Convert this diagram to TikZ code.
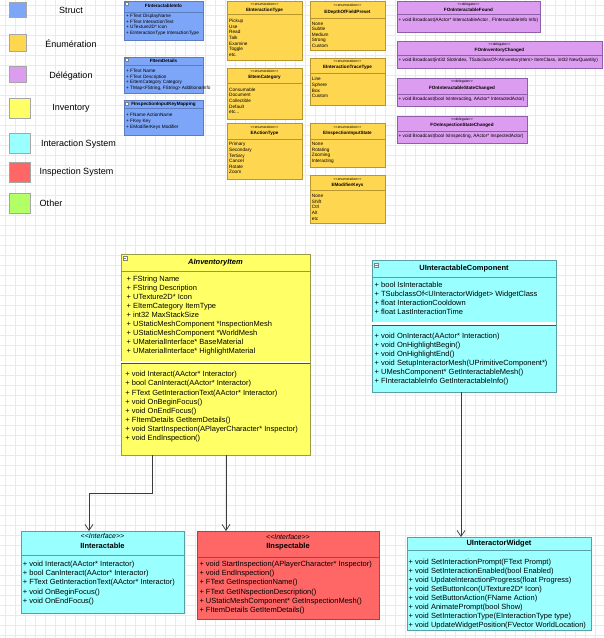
\documentclass[tikz,border=0pt]{standalone}
\usepackage{fontspec}
\setmainfont{Liberation Sans}
\usetikzlibrary{arrows.meta, positioning, calc}
\definecolor{structBlue}{HTML}{7EA6F8}
\definecolor{structLine}{HTML}{5A7DC0}
\definecolor{enumGold}{HTML}{FFD650}
\definecolor{enumLine}{HTML}{B8962E}
\definecolor{delegViolet}{HTML}{DC9CF0}
\definecolor{delegLine}{HTML}{8E5EA8}
\definecolor{invYellow}{HTML}{FFFF66}
\definecolor{invLine}{HTML}{9A9A45}
\definecolor{interCyan}{HTML}{99FFFF}
\definecolor{interLine}{HTML}{5A9EA6}
\definecolor{inspRed}{HTML}{FF6666}
\definecolor{inspLine}{HTML}{A84440}
\definecolor{otherGreen}{HTML}{B3FF66}
\definecolor{gridGray}{HTML}{EAEAEA}
\definecolor{wireGray}{HTML}{3C3C3C}

\begin{document}
\begin{tikzpicture}[
    x=1pt, y=-1pt,
    box/.style={draw, anchor=north west, inner sep=0pt, outer sep=0pt, line width=0.6pt},
    swatch/.style={draw=gray!70, anchor=north west, inner sep=0pt, line width=0.5pt},
    legend/.style={font=\fontsize{9}{11}\selectfont},
    memberbig/.style={anchor=north west, align=left, inner sep=0pt, font=\fontsize{7.5}{9}\selectfont},
    titlebig/.style={inner sep=0pt, font=\fontsize{7.5}{9}\selectfont\bfseries},
    stereobig/.style={inner sep=0pt, font=\fontsize{7}{8}\selectfont\itshape},
    membersmall/.style={anchor=north west, align=left, inner sep=0pt, font=\fontsize{4.7}{5.6}\selectfont},
    titlesmall/.style={inner sep=0pt, font=\fontsize{4.6}{5.5}\selectfont\bfseries},
    stereosmall/.style={inner sep=0pt, font=\fontsize{3.5}{4}\selectfont},
    rule/.style={line width=0.6pt},
    toggle/.style={fill=white, draw=gray, line width=0.3pt},
    assoc/.style={draw=wireGray, line width=0.7pt, -{Straight Barb[length=6pt,width=8pt]}},
]
    \useasboundingbox (0,0) rectangle (604,638);
    % background grid
    \foreach \gx in {5,15,...,604} \draw[gridGray, line width=0.4pt] (\gx,0) -- (\gx,638);
    \foreach \gy in {5,15,...,638} \draw[gridGray, line width=0.4pt] (0,\gy) -- (604,\gy);

    % legend
    \node[swatch, fill=structBlue, minimum width=17pt, minimum height=15pt] (lg-struct) at (9,2) {};
    \node[legend] (lg-struct-t) at (71,10) {Struct};
    \node[swatch, fill=enumGold, minimum width=17pt, minimum height=17pt] (lg-enum) at (9,34) {};
    \node[legend] (lg-enum-t) at (71,44) {Énumération};
    \node[swatch, fill=delegViolet, minimum width=17pt, minimum height=16pt] (lg-deleg) at (9,66) {};
    \node[legend] (lg-deleg-t) at (71,76) {Délégation};
    \node[swatch, fill=invYellow, minimum width=21pt, minimum height=20pt] (lg-inv) at (9,98) {};
    \node[legend] (lg-inv-t) at (71,108) {Inventory};
    \node[swatch, fill=interCyan, minimum width=21pt, minimum height=20pt] (lg-inter) at (9,133) {};
    \node[legend] (lg-inter-t) at (78.5,144) {Interaction System};
    \node[swatch, fill=inspRed, minimum width=21pt, minimum height=20pt] (lg-insp) at (9,162) {};
    \node[legend] (lg-insp-t) at (76.5,172) {Inspection System};
    \node[swatch, fill=otherGreen, minimum width=21pt, minimum height=20pt] (lg-other) at (9,193) {};
    \node[legend] (lg-other-t) at (51,203) {Other};

    % structs
    \node[box, fill=structBlue, draw=structLine, minimum width=79pt, minimum height=39pt] (iinfo) at (124,1) {};
    \draw[structLine, rule] ([yshift=-11pt]iinfo.north west) -- ([yshift=-11pt]iinfo.north east);
    \draw[toggle] (125.5,2.5) rectangle ++(3,3);
    \node[titlesmall] (iinfo-t) at (163.5,5.8) {FInteractableInfo};
    \node[membersmall] (iinfo-a) at (126,13.9) {+ FText DisplayName\\+ FText InteractionText\\+ UTexture2D* Icon\\+ EInteractionType InteractionType};

    \node[box, fill=structBlue, draw=structLine, minimum width=79pt, minimum height=36pt] (idet) at (124,57) {};
    \draw[structLine, rule] ([yshift=-8pt]idet.north west) -- ([yshift=-8pt]idet.north east);
    \draw[toggle] (125.5,58.3) rectangle ++(3,3);
    \node[titlesmall] (idet-t) at (163.5,61) {FItemDetails};
    \node[membersmall] (idet-a) at (126,69) {+ FText Name\\+ FText Description\\+ EItemCategory Category\\+ TMap<FString, FString> AdditionalInfo};

    \node[box, fill=structBlue, draw=structLine, minimum width=79pt, minimum height=34.5pt] (ikey) at (124,100.5) {};
    \draw[structLine, rule] ([yshift=-8pt]ikey.north west) -- ([yshift=-8pt]ikey.north east);
    \draw[toggle] (125.5,101.8) rectangle ++(3,3);
    \node[titlesmall] (ikey-t) at (163.5,104.8) {FInspectionInputKeyMapping};
    \node[membersmall] (ikey-a) at (126,113.2) {+ FName ActionName\\+ FKey Key\\+ EModifierKeys Modifier};

    % enumerations
    \node[box, fill=enumGold, draw=enumLine, minimum width=75pt, minimum height=59pt] (einter) at (227,1) {};
    \draw[enumLine, rule] ([yshift=-13.5pt]einter.north west) -- ([yshift=-13.5pt]einter.north east);
    \node[stereosmall] (einter-s) at (264.5,4.5) {<{}<enumeration>{}>};
    \node[titlesmall] (einter-t) at (264.5,10) {EInteractionType};
    \node[membersmall] (einter-a) at (229,19) {Pickup\\Use\\Read\\Talk\\Examine\\Toggle\\etc.};

    \node[box, fill=enumGold, draw=enumLine, minimum width=75pt, minimum height=51pt] (ecat) at (227,68) {};
    \draw[enumLine, rule] ([yshift=-15.3pt]ecat.north west) -- ([yshift=-15.3pt]ecat.north east);
    \node[stereosmall] (ecat-s) at (264.5,71.3) {<{}<enumeration>{}>};
    \node[titlesmall] (ecat-t) at (264.5,77.8) {EItemCategory};
    \node[membersmall] (ecat-a) at (229,87.6) {Consumable\\Document\\Collectible\\Default\\etc...};

    \node[box, fill=enumGold, draw=enumLine, minimum width=75pt, minimum height=56pt] (eact) at (227,123) {};
    \draw[enumLine, rule] ([yshift=-16pt]eact.north west) -- ([yshift=-16pt]eact.north east);
    \node[stereosmall] (eact-s) at (264.5,127) {<{}<enumeration>{}>};
    \node[titlesmall] (eact-t) at (264.5,133) {EActionType};
    \node[membersmall] (eact-a) at (229,142.3) {Primary\\Secondary\\Tertiary\\Cancel\\Rotate\\Zoom};

    \node[box, fill=enumGold, draw=enumLine, minimum width=75pt, minimum height=49pt] (edof) at (310,1) {};
    \draw[enumLine, rule] ([yshift=-17pt]edof.north west) -- ([yshift=-17pt]edof.north east);
    \node[stereosmall] (edof-s) at (347.5,5.3) {<{}<enumeration>{}>};
    \node[titlesmall] (edof-t) at (347.5,12.3) {EDepthOfFieldPreset};
    \node[membersmall] (edof-a) at (311.7,21.6) {None\\Subtle\\Medium\\Strong\\Custom};

    \node[box, fill=enumGold, draw=enumLine, minimum width=75pt, minimum height=47pt] (etrace) at (310,58) {};
    \draw[enumLine, rule] ([yshift=-15.5pt]etrace.north west) -- ([yshift=-15.5pt]etrace.north east);
    \node[stereosmall] (etrace-s) at (347.5,61.7) {<{}<enumeration>{}>};
    \node[titlesmall] (etrace-t) at (347.5,67.7) {EInteractionTraceType};
    \node[membersmall] (etrace-a) at (311.7,77.3) {Line\\Sphere\\Box\\Custom};

    \node[box, fill=enumGold, draw=enumLine, minimum width=75pt, minimum height=44pt] (einsp) at (310,123) {};
    \draw[enumLine, rule] ([yshift=-16pt]einsp.north west) -- ([yshift=-16pt]einsp.north east);
    \node[stereosmall] (einsp-s) at (347.5,127.3) {<{}<enumeration>{}>};
    \node[titlesmall] (einsp-t) at (347.5,133) {EInspectionInputState};
    \node[membersmall] (einsp-a) at (311.7,142.3) {None\\Rotating\\Zooming\\Interacting};

    \node[box, fill=enumGold, draw=enumLine, minimum width=75pt, minimum height=48pt] (emod) at (310,175) {};
    \draw[enumLine, rule] ([yshift=-15.5pt]emod.north west) -- ([yshift=-15.5pt]emod.north east);
    \node[stereosmall] (emod-s) at (347.5,179) {<{}<enumeration>{}>};
    \node[titlesmall] (emod-t) at (347.5,185) {EModifierKeys};
    \node[membersmall] (emod-a) at (311.7,194.3) {None\\Shift\\Ctrl\\Alt\\etc};

    % delegates
    \node[box, fill=delegViolet, draw=delegLine, minimum width=143pt, minimum height=31pt] (dfound) at (397,1) {};
    \draw[delegLine, rule] ([yshift=-13.3pt]dfound.north west) -- ([yshift=-13.3pt]dfound.north east);
    \node[stereosmall] (dfound-s) at (468.5,5) {<{}<delegate>{}>};
    \node[titlesmall] (dfound-t) at (468.5,10.3) {FOnInteractableFound};
    \node[membersmall, anchor=west] (dfound-m) at (398.5,20.7) {+ void Broadcast(AActor* InteractableActor , FInteractableInfo Info)};

    \node[box, fill=delegViolet, draw=delegLine, minimum width=205pt, minimum height=27.3pt] (dinv) at (397,41) {};
    \draw[delegLine, rule] ([yshift=-14pt]dinv.north west) -- ([yshift=-14pt]dinv.north east);
    \node[stereosmall] (dinv-s) at (499.5,44.3) {<{}<delegate>{}>};
    \node[titlesmall] (dinv-t) at (499.5,50) {FOnInventoryChanged};
    \node[membersmall, anchor=west] (dinv-m) at (398.5,60.7) {+ void Broadcast(int32 SlotIndex, TSubclassOf<AInventoryItem> ItemClass, int32 NewQuantity)};

    \node[box, fill=delegViolet, draw=delegLine, minimum width=130pt, minimum height=28pt] (dinter) at (397,78) {};
    \draw[delegLine, rule] ([yshift=-16.5pt]dinter.north west) -- ([yshift=-16.5pt]dinter.north east);
    \node[stereosmall] (dinter-s) at (462,81.7) {<{}<delegate>{}>};
    \node[titlesmall] (dinter-t) at (462,88.3) {FOnInteractableStateChanged};
    \node[membersmall, anchor=west] (dinter-m) at (398.5,99.3) {+ void Broadcast(bool IsInteracting, AActor* InteractedActor)};

    \node[box, fill=delegViolet, draw=delegLine, minimum width=130pt, minimum height=27pt] (dinsp) at (397,116) {};
    \draw[delegLine, rule] ([yshift=-15.7pt]dinsp.north west) -- ([yshift=-15.7pt]dinsp.north east);
    \node[stereosmall] (dinsp-s) at (462,119.3) {<{}<delegate>{}>};
    \node[titlesmall] (dinsp-t) at (462,125.7) {FOnInspectionStateChanged};
    \node[membersmall, anchor=west] (dinsp-m) at (398.5,136.7) {+ void Broadcast(bool IsInspecting, AActor* InspectedActor)};

    % inventory item
    \node[box, fill=invYellow, draw=invLine, minimum width=189pt, minimum height=201pt] (ainv) at (121,254) {};
    \draw[invLine, rule] ([yshift=-17pt]ainv.north west) -- ([yshift=-17pt]ainv.north east);
    \fill[white] ([xshift=0.4pt,yshift=-106.8pt]ainv.north west) rectangle ([xshift=-0.4pt,yshift=-109.4pt]ainv.north east);
    \draw[black!70, rule] ([yshift=-109.7pt]ainv.north west) -- ([yshift=-109.7pt]ainv.north east);
    \draw[toggle] (123,256.5) rectangle ++(4,4);
    \draw[gray, line width=0.4pt] (123.8,258.5) -- ++(2.4,0);
    \node[titlebig, font=\fontsize{7.5}{9}\selectfont\bfseries\itshape] (ainv-t) at (215.5,262.5) {AInventoryItem};
    \node[memberbig] (ainv-a) at (126.5,275.5) {+ FString Name\\+ FString Description\\+ UTexture2D* Icon\\+ EItemCategory ItemType\\+ int32 MaxStackSize\\+ UStaticMeshComponent *InspectionMesh\\+ UStaticMeshComponent *WorldMesh\\+ UMaterialInterface* BaseMaterial\\+ UMaterialInterface* HighlightMaterial};
    \node[memberbig, font=\fontsize{7.5}{9.1}\selectfont] (ainv-m) at (125.2,371.2) {+ void Interact(AActor* Interactor)\\+ bool CanInteract(AActor* Interactor)\\+ FText GetInteractionText(AActor* Interactor)\\+ void OnBeginFocus()\\+ void OnEndFocus()\\+ FItemDetails GetItemDetails()\\+ void StartInspection(APlayerCharacter* Inspector)\\+ void EndInspection()};

    % interactable component
    \node[box, fill=interCyan, draw=interLine, minimum width=184pt, minimum height=132pt] (uic) at (372,260) {};
    \draw[interLine, rule] ([yshift=-17pt]uic.north west) -- ([yshift=-17pt]uic.north east);
    \fill[white] ([xshift=0.4pt,yshift=-62pt]uic.north west) rectangle ([xshift=-0.4pt,yshift=-65.2pt]uic.north east);
    \draw[black!70, rule] ([yshift=-65.5pt]uic.north west) -- ([yshift=-65.5pt]uic.north east);
    \draw[toggle] (374.5,263) rectangle ++(4,4);
    \draw[gray, line width=0.4pt] (375.3,265) -- ++(2.4,0);
    \node[titlebig] (uic-t) at (464,268.5) {UInteractableComponent};
    \node[memberbig] (uic-a) at (374.5,281.5) {+ bool IsInteractable\\+ TSubclassOf<UInteractorWidget> WidgetClass\\+ float InteractionCooldown\\+ float LastInteractionTime};
    \node[memberbig] (uic-m) at (374.5,333.2) {+ void OnInteract(AActor* Interaction)\\+ void OnHighlightBegin()\\+ void OnHighlightEnd()\\+ void SetupInteractorMesh(UPrimitiveComponent*)\\+ UMeshComponent* GetInteractableMesh()\\+ FInteractableInfo GetInteractableInfo()};

    % interfaces and widget
    \node[box, fill=interCyan, draw=interLine, minimum width=163pt, minimum height=82pt] (iint) at (21,531) {};
    \draw[interLine, rule] ([yshift=-24pt]iint.north west) -- ([yshift=-24pt]iint.north east);
    \node[stereobig] (iint-s) at (102.5,536) {<{}<Interface>{}>};
    \node[titlebig] (iint-t) at (102.5,546) {IInteractable};
    \node[memberbig, font=\fontsize{7.5}{9.3}\selectfont] (iint-m) at (22.7,560.5) {+ void Interact(AActor* Interactor)\\+ bool CanInteract(AActor* Interactor)\\+ FText GetInteractionText(AActor* Interactor)\\+ void OnBeginFocus()\\+ void OnEndFocus()};

    \node[box, fill=inspRed, draw=inspLine, minimum width=182pt, minimum height=88pt] (iinsp) at (197,531) {};
    \draw[inspLine, rule] ([yshift=-26pt]iinsp.north west) -- ([yshift=-26pt]iinsp.north east);
    \node[stereobig] (iinsp-s) at (288,536.7) {<{}<Interface>{}>};
    \node[titlebig] (iinsp-t) at (288,546.7) {IInspectable};
    \node[memberbig, font=\fontsize{7.5}{9.3}\selectfont] (iinsp-m) at (199.3,560.5) {+ void StartInspection(APlayerCharacter* Inspector)\\+ void EndInspection()\\+ FText GetInspectionName()\\+ FText GetINspectionDescription()\\+ UStaticMeshComponent* GetInspectionMesh()\\+ FItemDetails GetItemDetails()};

    \node[box, fill=interCyan, draw=interLine, minimum width=184pt, minimum height=93pt] (uiw) at (407,537) {};
    \draw[interLine, rule] ([yshift=-13pt]uiw.north west) -- ([yshift=-13pt]uiw.north east);
    \node[titlebig] (uiw-t) at (499,543.5) {UInteractorWidget};
    \node[memberbig, font=\fontsize{7.5}{8.95}\selectfont] (uiw-m) at (408.5,558.9) {+ void SetInteractionPrompt(FText Prompt)\\+ void SetInteractionEnabled(bool Enabled)\\+ void UpdateInteractionProgress(float Progress)\\+ void SetButtonIcon(UTexture2D* Icon)\\+ void SetButtonAction(FName Action)\\+ void AnimatePrompt(bool Show)\\+ void SetInteractionType(EInteractionType type)\\+ void UpdateWidgetPosition(FVector WorldLocation)};

    % connectors
    \draw[assoc] ([xshift=31.5pt]ainv.south west) -- ++(0,38) -| ([xshift=-13.5pt]iint.north);
    \draw[assoc] ([xshift=105pt]ainv.south west) -- ([xshift=29pt]iinsp.north west);
    \draw[assoc] ([xshift=89pt]uic.south west) -- ([xshift=54pt]uiw.north west);
\end{tikzpicture}
\end{document}
